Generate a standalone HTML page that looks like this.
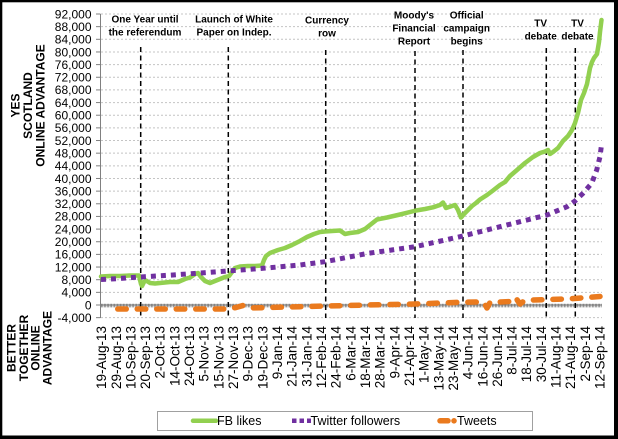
<!DOCTYPE html>
<html><head><meta charset="utf-8">
<style>
html,body{margin:0;padding:0;background:#fff;}
svg{display:block;}
</style></head>
<body>
<svg width="618" height="439" viewBox="0 0 618 439" xmlns="http://www.w3.org/2000/svg" font-family="'Liberation Sans', Arial, sans-serif">
<rect x="0" y="0" width="618" height="439" fill="#fff"/>

<!-- gridlines -->
<g stroke="#c4c4c4" stroke-width="1" stroke-dasharray="2 2" fill="none">
<line x1="101" y1="14.0" x2="602" y2="14.0"/>
<line x1="101" y1="26.65" x2="602" y2="26.65"/>
<line x1="101" y1="39.3" x2="602" y2="39.3"/>
<line x1="101" y1="51.96" x2="602" y2="51.96"/>
<line x1="101" y1="64.61" x2="602" y2="64.61"/>
<line x1="101" y1="77.26" x2="602" y2="77.26"/>
<line x1="101" y1="89.91" x2="602" y2="89.91"/>
<line x1="101" y1="102.57" x2="602" y2="102.57"/>
<line x1="101" y1="115.22" x2="602" y2="115.22"/>
<line x1="101" y1="127.87" x2="602" y2="127.87"/>
<line x1="101" y1="140.52" x2="602" y2="140.52"/>
<line x1="101" y1="153.17" x2="602" y2="153.17"/>
<line x1="101" y1="165.83" x2="602" y2="165.83"/>
<line x1="101" y1="178.48" x2="602" y2="178.48"/>
<line x1="101" y1="191.13" x2="602" y2="191.13"/>
<line x1="101" y1="203.78" x2="602" y2="203.78"/>
<line x1="101" y1="216.43" x2="602" y2="216.43"/>
<line x1="101" y1="229.09" x2="602" y2="229.09"/>
<line x1="101" y1="241.74" x2="602" y2="241.74"/>
<line x1="101" y1="254.39" x2="602" y2="254.39"/>
<line x1="101" y1="267.04" x2="602" y2="267.04"/>
<line x1="101" y1="279.7" x2="602" y2="279.7"/>
<line x1="101" y1="292.35" x2="602" y2="292.35"/>
<line x1="101" y1="317.65" x2="602" y2="317.65"/>
</g>

<!-- left axis -->
<g stroke="#808080" stroke-width="1">
<line x1="100.5" y1="14" x2="100.5" y2="318"/>
<line x1="96" y1="14.0" x2="100.5" y2="14.0"/>
<line x1="96" y1="26.65" x2="100.5" y2="26.65"/>
<line x1="96" y1="39.3" x2="100.5" y2="39.3"/>
<line x1="96" y1="51.96" x2="100.5" y2="51.96"/>
<line x1="96" y1="64.61" x2="100.5" y2="64.61"/>
<line x1="96" y1="77.26" x2="100.5" y2="77.26"/>
<line x1="96" y1="89.91" x2="100.5" y2="89.91"/>
<line x1="96" y1="102.57" x2="100.5" y2="102.57"/>
<line x1="96" y1="115.22" x2="100.5" y2="115.22"/>
<line x1="96" y1="127.87" x2="100.5" y2="127.87"/>
<line x1="96" y1="140.52" x2="100.5" y2="140.52"/>
<line x1="96" y1="153.17" x2="100.5" y2="153.17"/>
<line x1="96" y1="165.83" x2="100.5" y2="165.83"/>
<line x1="96" y1="178.48" x2="100.5" y2="178.48"/>
<line x1="96" y1="191.13" x2="100.5" y2="191.13"/>
<line x1="96" y1="203.78" x2="100.5" y2="203.78"/>
<line x1="96" y1="216.43" x2="100.5" y2="216.43"/>
<line x1="96" y1="229.09" x2="100.5" y2="229.09"/>
<line x1="96" y1="241.74" x2="100.5" y2="241.74"/>
<line x1="96" y1="254.39" x2="100.5" y2="254.39"/>
<line x1="96" y1="267.04" x2="100.5" y2="267.04"/>
<line x1="96" y1="279.7" x2="100.5" y2="279.7"/>
<line x1="96" y1="292.35" x2="100.5" y2="292.35"/>
<line x1="96" y1="305" x2="100.5" y2="305"/>
<line x1="96" y1="317.65" x2="100.5" y2="317.65"/>
</g>

<!-- zero axis with dense ticks -->
<line x1="100.5" y1="305" x2="602" y2="305" stroke="#808080" stroke-width="1"/>
<line x1="101" y1="305.6" x2="602" y2="305.6" stroke="#6a6a6a" stroke-width="3.6" stroke-dasharray="0.7 0.77"/>

<!-- y tick labels -->
<g font-size="12" text-anchor="end" fill="#000">
<text x="91.5" y="18.3">92,000</text>
<text x="91.5" y="30.95">88,000</text>
<text x="91.5" y="43.6">84,000</text>
<text x="91.5" y="56.26">80,000</text>
<text x="91.5" y="68.91">76,000</text>
<text x="91.5" y="81.56">72,000</text>
<text x="91.5" y="94.21">68,000</text>
<text x="91.5" y="106.87">64,000</text>
<text x="91.5" y="119.52">60,000</text>
<text x="91.5" y="132.17">56,000</text>
<text x="91.5" y="144.82">52,000</text>
<text x="91.5" y="157.47">48,000</text>
<text x="91.5" y="170.13">44,000</text>
<text x="91.5" y="182.78">40,000</text>
<text x="91.5" y="195.43">36,000</text>
<text x="91.5" y="208.08">32,000</text>
<text x="91.5" y="220.73">28,000</text>
<text x="91.5" y="233.39">24,000</text>
<text x="91.5" y="246.04">20,000</text>
<text x="91.5" y="258.69">16,000</text>
<text x="91.5" y="271.34">12,000</text>
<text x="91.5" y="284.0">8,000</text>
<text x="91.5" y="296.65">4,000</text>
<text x="91.5" y="309.3">0</text>
<text x="91.5" y="321.95">-4,000</text>
</g>

<!-- axis titles -->
<g font-size="12" font-weight="bold" text-anchor="middle" fill="#000">
<text transform="translate(19.3,105.5) rotate(-90)">YES</text>
<text transform="translate(31.8,105.5) rotate(-90)">SCOTLAND</text>
<text transform="translate(44.3,105.5) rotate(-90)">ONLINE ADVANTAGE</text>
<text transform="translate(15.3,348) rotate(-90)">BETTER</text>
<text transform="translate(27.8,348) rotate(-90)">TOGETHER</text>
<text transform="translate(39.3,348) rotate(-90)">ONLINE</text>
<text transform="translate(51.3,348) rotate(-90)">ADVANTAGE</text>
</g>

<!-- x labels -->
<g font-size="13.5" text-anchor="end" fill="#000">
<text transform="translate(106.1,326) rotate(-90)">19-Aug-13</text>
<text transform="translate(120.76,326) rotate(-90)">29-Aug-13</text>
<text transform="translate(135.42,326) rotate(-90)">10-Sep-13</text>
<text transform="translate(150.08,326) rotate(-90)">20-Sep-13</text>
<text transform="translate(164.74,326) rotate(-90)">2-Oct-13</text>
<text transform="translate(179.4,326) rotate(-90)">14-Oct-13</text>
<text transform="translate(194.06,326) rotate(-90)">24-Oct-13</text>
<text transform="translate(208.72,326) rotate(-90)">5-Nov-13</text>
<text transform="translate(223.38,326) rotate(-90)">15-Nov-13</text>
<text transform="translate(238.04,326) rotate(-90)">27-Nov-13</text>
<text transform="translate(252.7,326) rotate(-90)">9-Dec-13</text>
<text transform="translate(267.36,326) rotate(-90)">19-Dec-13</text>
<text transform="translate(282.02,326) rotate(-90)">9-Jan-14</text>
<text transform="translate(296.68,326) rotate(-90)">21-Jan-14</text>
<text transform="translate(311.34,326) rotate(-90)">31-Jan-14</text>
<text transform="translate(326.0,326) rotate(-90)">12-Feb-14</text>
<text transform="translate(340.66,326) rotate(-90)">24-Feb-14</text>
<text transform="translate(355.32,326) rotate(-90)">6-Mar-14</text>
<text transform="translate(369.98,326) rotate(-90)">18-Mar-14</text>
<text transform="translate(384.64,326) rotate(-90)">28-Mar-14</text>
<text transform="translate(399.3,326) rotate(-90)">9-Apr-14</text>
<text transform="translate(413.96,326) rotate(-90)">21-Apr-14</text>
<text transform="translate(428.62,326) rotate(-90)">1-May-14</text>
<text transform="translate(443.28,326) rotate(-90)">13-May-14</text>
<text transform="translate(457.94,326) rotate(-90)">23-May-14</text>
<text transform="translate(472.6,326) rotate(-90)">4-Jun-14</text>
<text transform="translate(487.26,326) rotate(-90)">16-Jun-14</text>
<text transform="translate(501.92,326) rotate(-90)">26-Jun-14</text>
<text transform="translate(516.58,326) rotate(-90)">8-Jul-14</text>
<text transform="translate(531.24,326) rotate(-90)">18-Jul-14</text>
<text transform="translate(545.9,326) rotate(-90)">30-Jul-14</text>
<text transform="translate(560.56,326) rotate(-90)">11-Aug-14</text>
<text transform="translate(575.22,326) rotate(-90)">21-Aug-14</text>
<text transform="translate(589.88,326) rotate(-90)">2-Sep-14</text>
<text transform="translate(604.54,326) rotate(-90)">12-Sep-14</text>
</g>

<!-- event dashed lines -->
<g stroke="#000" stroke-width="1.5" stroke-dasharray="5 3.5">
<line x1="140.7" y1="47" x2="140.7" y2="318"/>
<line x1="228.3" y1="47" x2="228.3" y2="318"/>
<line x1="325.7" y1="50" x2="325.7" y2="318"/>
<line x1="415" y1="51" x2="415" y2="318"/>
<line x1="463" y1="50" x2="463" y2="318"/>
<line x1="546.3" y1="48" x2="546.3" y2="318"/>
<line x1="575.3" y1="48" x2="575.3" y2="318"/>
</g>

<!-- annotations -->
<g font-size="10" font-weight="bold" text-anchor="middle" fill="#000">
<text x="145" y="22.6">One Year until</text>
<text x="145" y="35.6">the referendum</text>
<text x="234" y="22.6">Launch of White</text>
<text x="234" y="35.6">Paper on Indep.</text>
<text x="327" y="23.6">Currency</text>
<text x="327" y="36.6">row</text>
<text x="414" y="18.6">Moody's</text>
<text x="414" y="31.3">Financial</text>
<text x="414" y="44.3">Report</text>
<text x="466.7" y="18.6">Official</text>
<text x="466.7" y="31.3">campaign</text>
<text x="466.7" y="44.3">begins</text>
<text x="540.7" y="26.3">TV</text>
<text x="540.7" y="39.3">debate</text>
<text x="577.5" y="26.3">TV</text>
<text x="577.5" y="39.3">debate</text>
</g>

<!-- FB likes -->
<polyline fill="none" stroke="#92d050" stroke-width="4.5" stroke-linejoin="round" stroke-linecap="round" points="101,276.5 110,276 120,276 130,275.5 139,275.5 141,284 142,286 144,282 146,280.5 150,283 155,283.5 160,283 165,282.5 170,282 178,282 185,279 190,277.5 195,274 198,273 201,277 205,281 210,283 215,281 220,279 225,277 229,276 232,272 235,268 240,266.5 248,266 255,266 262,265.5 264,260 266,256 270,253 278,250 285,248 292,245 300,241 307,237 314,234 320,232 325,231.5 332,231 340,230.5 345,234 350,233 358,232 365,229 370,225 377,219.5 387,217.5 400,214.5 410,212 416,210.5 425,209 433,207.3 440,205 443,202.5 446,208 449,207 455,205 458,210 461,217.5 464,214 467,211 472,206 476,203 480,199.5 487,195 493,190.5 500,185 505,182 510,176 517,170 525,163 533,157 540,153 545,151.5 548,150 550,154 553,152 558,148 563,141 568,136 572,130 575,123 578,113 581,100 584,93 587,84 590,68 592,62 594,58 597,54 599,42 600,32 601.5,20"/>

<!-- Twitter followers -->
<polyline fill="none" stroke="#7030a0" stroke-width="5" stroke-dasharray="5 5" stroke-linejoin="round" points="101,279.5 120,278.5 140,277 173,275 207,272.5 227,271 263,268.3 300,265 325,261.7 367,253.5 415,246.7 460,236.7 500,226.7 527,220 547,215 567,206.7 575,201 583,193.3 591.7,183.3 596.7,170 600,156.7 601.7,143.3"/>

<!-- Tweets -->
<polyline fill="none" stroke="#ea7a1e" stroke-width="5.5" stroke-dasharray="8.5 11" stroke-linecap="round" stroke-linejoin="round" points="117.75,309 228,309 236,307.5 243,305.5 250,308 300,306.7 367,305 415,304 460,302.3 480,302 484,302.5 487,308 490,302.5 510,301.5 513,303 516.5,299 520,304 524,301 533,300 567,299 600,296.5"/>

<!-- legend -->
<rect x="157.5" y="411.5" width="375" height="19" fill="#fff" stroke="#a0a0a0" stroke-width="1"/>
<line x1="193" y1="420.8" x2="216" y2="420.8" stroke="#92d050" stroke-width="4.5" stroke-linecap="round"/>
<text x="217" y="425.2" font-size="12.5" fill="#000">FB likes</text>
<line x1="292" y1="420.8" x2="311" y2="420.8" stroke="#7030a0" stroke-width="4.5" stroke-dasharray="4.5 3"/>
<text x="310.5" y="425.2" font-size="12.5" fill="#000">Twitter followers</text>
<line x1="440" y1="420.8" x2="448" y2="420.8" stroke="#ea7a1e" stroke-width="5.5" stroke-linecap="round"/>
<circle cx="454" cy="420.8" r="2.8" fill="#ea7a1e"/>
<text x="457" y="425.2" font-size="12.5" fill="#000">Tweets</text>

<!-- frame -->
<rect x="0" y="0" width="618" height="2.3" fill="#000"/>
<rect x="0" y="0" width="2.3" height="439" fill="#000"/>
<rect x="614" y="0" width="4" height="439" fill="#000"/>
<rect x="0" y="435.5" width="618" height="3.5" fill="#000"/>
</svg>
</body></html>
